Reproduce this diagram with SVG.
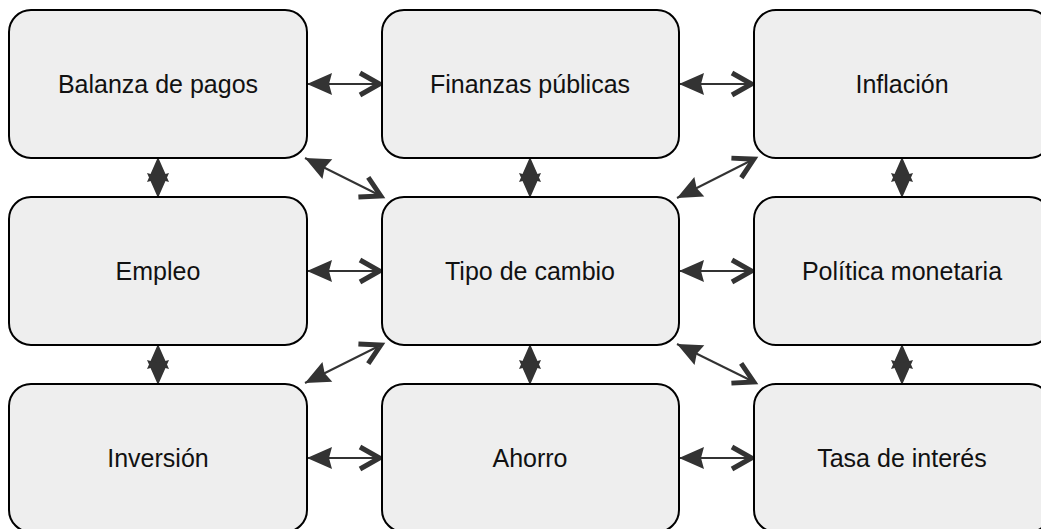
<svg xmlns="http://www.w3.org/2000/svg" width="1041" height="529" viewBox="0 0 1041 529">
<style>
.box{fill:#eeeeee;stroke:#000;stroke-width:2}
.lbl{font-family:"Liberation Sans",Arial,sans-serif;font-size:25px;fill:#111;text-anchor:middle;dominant-baseline:central}
.c{stroke:#333;stroke-width:2;fill:none;marker-start:url(#tri);marker-end:url(#chev)}
.v{stroke:#333;stroke-width:2;fill:none;marker-start:url(#tri);marker-end:url(#tri2)}
</style>
<defs>
<marker id="tri" markerUnits="userSpaceOnUse" orient="auto" markerWidth="30" markerHeight="30" refX="0" refY="0" viewBox="-2 -15 30 30" overflow="visible">
<path d="M0,0 L25,-11 L22,0 L25,11 Z" fill="#333"/>
</marker>
<marker id="tri2" markerUnits="userSpaceOnUse" orient="auto" markerWidth="30" markerHeight="30" refX="0" refY="0" viewBox="-28 -15 30 30" overflow="visible">
<path d="M0,0 L-25,-11 L-22,0 L-25,11 Z" fill="#333"/>
</marker>
<marker id="chev" markerUnits="userSpaceOnUse" orient="auto" markerWidth="30" markerHeight="30" refX="0" refY="0" viewBox="-28 -15 30 30" overflow="visible">
<path d="M-22,-11 L-2.5,0 L-22,11" fill="none" stroke="#333" stroke-width="5" stroke-linejoin="miter"/>
</marker>
</defs>
<rect width="1041" height="529" fill="#fff"/>
<g id="connectors">
<line class="c" x1="307" y1="84" x2="382" y2="84"/>
<line class="c" x1="679" y1="84" x2="754" y2="84"/>
<line class="c" x1="307" y1="271" x2="382" y2="271"/>
<line class="c" x1="679" y1="271" x2="754" y2="271"/>
<line class="c" x1="307" y1="458" x2="382" y2="458"/>
<line class="c" x1="679" y1="458" x2="754" y2="458"/>
<line class="v" x1="158" y1="157" x2="158" y2="198"/>
<line class="v" x1="530" y1="157" x2="530" y2="198"/>
<line class="v" x1="902" y1="157" x2="902" y2="198"/>
<line class="v" x1="158" y1="344" x2="158" y2="385"/>
<line class="v" x1="530" y1="344" x2="530" y2="385"/>
<line class="v" x1="902" y1="344" x2="902" y2="385"/>
<line class="c" x1="305" y1="158" x2="383" y2="197"/>
<line class="c" x1="677" y1="198" x2="756" y2="158"/>
<line class="c" x1="677" y1="344" x2="756" y2="383"/>
<line class="c" x1="305" y1="383" x2="383" y2="344"/>
</g>
<g id="n1"><rect class="box" x="9" y="10" width="298" height="148" rx="22"/><text class="lbl" x="158" y="84">Balanza de pagos</text></g>
<g id="n2"><rect class="box" x="382" y="10" width="297" height="148" rx="22"/><text class="lbl" x="530" y="84">Finanzas públicas</text></g>
<g id="n3"><rect class="box" x="754" y="10" width="297" height="148" rx="22"/><text class="lbl" x="902" y="84">Inflación</text></g>
<g id="n4"><rect class="box" x="9" y="197" width="298" height="148" rx="22"/><text class="lbl" x="158" y="271">Empleo</text></g>
<g id="n5"><rect class="box" x="382" y="197" width="297" height="148" rx="22"/><text class="lbl" x="530" y="271">Tipo de cambio</text></g>
<g id="n6"><rect class="box" x="754" y="197" width="297" height="148" rx="22"/><text class="lbl" x="902" y="271">Política monetaria</text></g>
<g id="n7"><rect class="box" x="9" y="384" width="298" height="148" rx="22"/><text class="lbl" x="158" y="458">Inversión</text></g>
<g id="n8"><rect class="box" x="382" y="384" width="297" height="148" rx="22"/><text class="lbl" x="530" y="458">Ahorro</text></g>
<g id="n9"><rect class="box" x="754" y="384" width="297" height="148" rx="22"/><text class="lbl" x="902" y="458">Tasa de interés</text></g>
</svg>
